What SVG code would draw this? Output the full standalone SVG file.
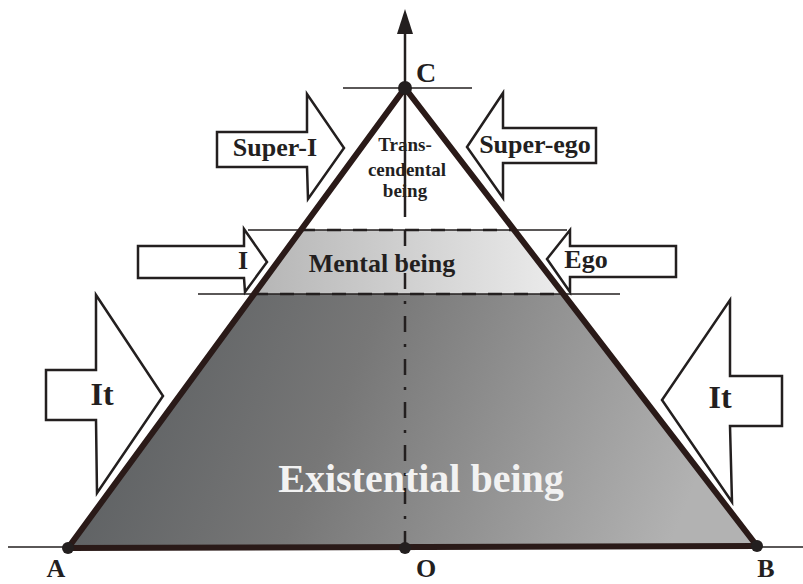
<svg xmlns="http://www.w3.org/2000/svg" width="803" height="584" viewBox="0 0 803 584">
<defs>
<style>
.t{font-family:"Liberation Serif","Times New Roman",serif;font-weight:bold;fill:#231f1f;text-anchor:middle}
.arrow{fill:#fff;stroke:#231f1f;stroke-width:2.5;stroke-linejoin:miter}
.thin{stroke:#231f1f;stroke-width:1.6;fill:none}
.edge{stroke:#2a1a18;stroke-width:6;fill:none;stroke-linecap:round;stroke-linejoin:round}
.dash{stroke:#231f1f;stroke-width:2.5;stroke-dasharray:14 12;fill:none}
.dot{fill:#231f1f}
</style>
<linearGradient id="gExist" x1="0" y1="0" x2="1" y2="0.15">
<stop offset="0" stop-color="#55595c"/>
<stop offset="0.45" stop-color="#777777"/>
<stop offset="1" stop-color="#b2b2b2"/>
</linearGradient>
<linearGradient id="gMental" x1="0" y1="0" x2="1" y2="0">
<stop offset="0" stop-color="#b5b5b5"/>
<stop offset="1" stop-color="#ececec"/>
</linearGradient>
</defs>
<rect width="803" height="584" fill="#fff"/>

<g id="triangle">
<polygon points="254,294 563,294 757,546 68,548" fill="url(#gExist)"/>
<polygon points="301,230 514,230 563,294 254,294" fill="url(#gMental)"/>
</g>

<g id="connectors">
<line class="thin" x1="8" y1="547" x2="803" y2="547"/>
<line class="thin" x1="343" y1="88" x2="472" y2="88"/>
<line class="thin" x1="248" y1="230" x2="567" y2="230"/>
<line class="thin" x1="198" y1="294" x2="620" y2="294"/>
<line class="dash" x1="301" y1="230" x2="514" y2="230"/>
<line class="dash" x1="254" y1="294" x2="563" y2="294"/>
<line x1="405" y1="30" x2="405" y2="217" stroke="#231f1f" stroke-width="2.5"/>
<line x1="405" y1="230" x2="405" y2="548" stroke="#231f1f" stroke-width="2.5" stroke-dasharray="16 12 3 12"/>
<polygon class="dot" points="405,9 397,34 413,34"/>
</g>

<g id="edges">
<polyline class="edge" points="68,548 405,88 757,546"/>
<line class="edge" x1="68" y1="548" x2="757" y2="546"/>
<circle class="dot" cx="405" cy="88" r="7"/>
<circle class="dot" cx="68" cy="548" r="6"/>
<circle class="dot" cx="757" cy="546" r="6"/>
<circle class="dot" cx="405" cy="548" r="6"/>
</g>

<g id="label-C"><text class="t" x="426" y="82" font-size="28">C</text></g>
<g id="label-A"><text class="t" x="56" y="577" font-size="26">A</text></g>
<g id="label-O"><text class="t" x="426" y="577" font-size="26">O</text></g>
<g id="label-B"><text class="t" x="766" y="577" font-size="26">B</text></g>

<g id="transcendental">
<text class="t" x="405" y="151" font-size="19">Trans-</text>
<text class="t" x="407" y="176" font-size="19">cendental</text>
<text class="t" x="405" y="197" font-size="19">being</text>
</g>

<g id="mental"><text class="t" x="382" y="272" font-size="26">Mental being</text></g>

<g id="existential"><text class="t" x="421" y="492" font-size="40" style="fill:#f2f2f2">Existential being</text></g>

<g id="arrow-super-i">
<polygon class="arrow" points="217,132 307,132 307,94 344,148 308,199 307,167 217,167"/>
<text class="t" x="275" y="156" font-size="26">Super-I</text>
</g>

<g id="arrow-super-ego">
<polygon class="arrow" points="596,128 503,128 503,93 467,147 503,198 503,163 596,163"/>
<text class="t" x="535" y="153" font-size="26">Super-ego</text>
</g>

<g id="arrow-i">
<polygon class="arrow" points="138,246 244,246 244,229 267,262 245,292 244,278 138,278"/>
<text class="t" x="243" y="269" font-size="26">I</text>
</g>

<g id="arrow-ego">
<polygon class="arrow" points="676,246 570,246 570,230 547,259 570,292 570,277 676,277"/>
<text class="t" x="586" y="268" font-size="26">Ego</text>
</g>

<g id="arrow-it-left">
<polygon class="arrow" points="46,370 96,370 96,295 163,396 97,493 96,420 46,420"/>
<text class="t" x="102" y="405" font-size="32">It</text>
</g>

<g id="arrow-it-right">
<polygon class="arrow" points="782,376 730,376 730,300 662,400 732,502 730,426 782,426"/>
<text class="t" x="720" y="408" font-size="32">It</text>
</g>
</svg>
